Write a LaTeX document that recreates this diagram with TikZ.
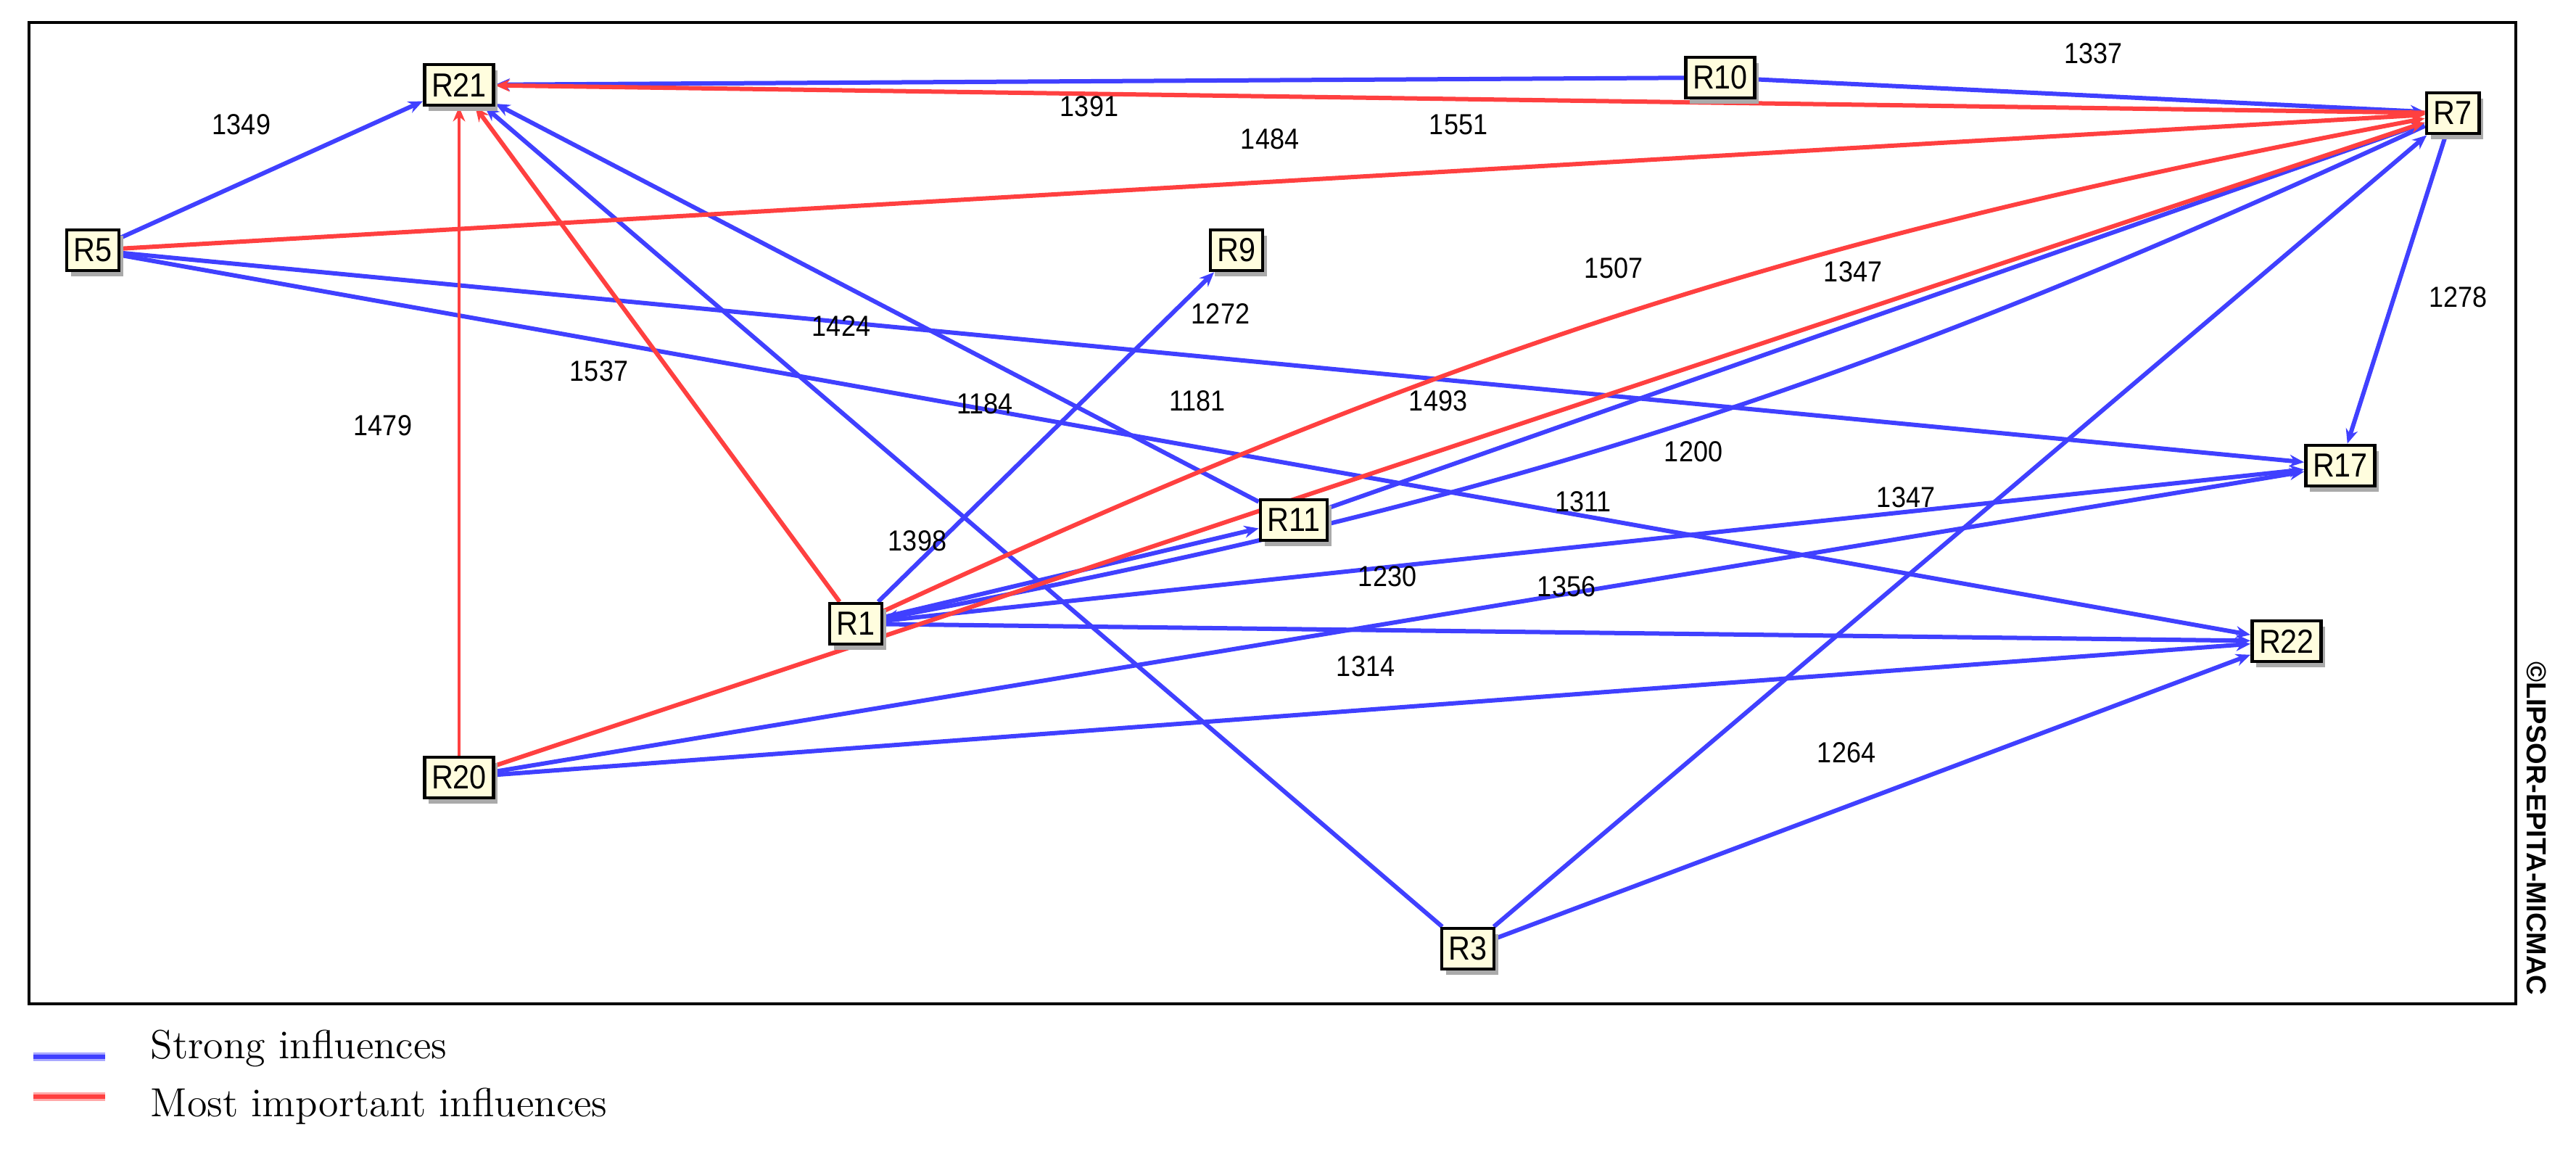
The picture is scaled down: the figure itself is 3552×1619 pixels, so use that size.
\documentclass[tikz,border=0pt]{standalone}
\usepackage{fontspec}
\newfontfamily\nf[FakeStretch=0.9]{Liberation Sans}
\newfontfamily\wmf{Liberation Sans}
\usetikzlibrary{arrows.meta,shadows}
\definecolor{eblue}{RGB}{64,64,255}
\definecolor{ered}{RGB}{255,64,64}
\definecolor{nfill}{RGB}{255,253,222}
\definecolor{shgray}{RGB}{170,170,170}
\pgfdeclarelayer{bg}
\pgfsetlayers{bg,main}
\begin{document}
\begin{tikzpicture}[x=0.25pt,y=-0.25pt,
  rbox/.style={draw=black, line width=1.2pt, fill=nfill,
    font=\nf\fontsize{11.5}{12}\selectfont, inner xsep=2.4pt, inner ysep=0pt,
    minimum height=14pt,
    drop shadow={shadow xshift=1.4pt, shadow yshift=-2pt, fill=shgray, opacity=1}},
  elab/.style={font=\nf\fontsize{10}{10}\selectfont, inner sep=0pt},
  tipA/.style={-{Stealth[length=5pt,width=4.2pt]}},
  be/.style={draw=eblue, line width=1.5pt, tipA},
  re/.style={draw=ered, line width=1.5pt, tipA},
  legtext/.style={font=\fontsize{14}{14}\selectfont, anchor=base west, inner sep=0pt}
]
\useasboundingbox (0,0) rectangle (3552,1619);

% nodes
\node[rbox] (R21) at (633,117) {R21};
\node[rbox] (R10) at (2372,107) {R10};
\node[rbox] (R7)  at (3382,156) {R7};
\node[rbox] (R5)  at (128,345) {R5};
\node[rbox] (R9)  at (1705,345) {R9};
\node[rbox] (R17) at (3227,642) {R17};
\node[rbox] (R11) at (1784,717) {R11};
\node[rbox] (R1)  at (1180,860) {R1};
\node[rbox] (R22) at (3153,884) {R22};
\node[rbox] (R20) at (633,1072) {R20};
\node[rbox] (R3)  at (2024,1308) {R3};

\begin{pgfonlayer}{bg}
  \draw[line width=1.1pt] (40,31) rectangle (3469,1384);
  % strong influences (blue)
  \draw[be] (R5) -- (R21);
  \draw[be] (R10) -- (R21);
  \draw[be] (R10) -- (R7);
  \draw[be] (R11) -- (R21);
  \draw[be] (R3) -- (R21);
  \draw[be] (R5) -- (R17);
  \draw[be] (R5) -- (R22);
  \draw[be] (R1) -- (R9);
  \draw[be] (R1) -- (R11);
  \draw[be] (R11) -- (R7);
  \draw[be] (R7) to[bend left=7] (R1);
  \draw[be] (R1) -- (R17);
  \draw[be] (R1) -- (R22);
  \draw[be] (R20) -- (R17);
  \draw[be] (R20) -- (R22);
  \draw[be] (R3) -- (R7);
  \draw[be] (R3) -- (R22);
  \draw[be] (R7) -- (R17);
  % most important influences (red)
  \draw[re] (R7) -- (R21);
  \draw[re] (R5) -- (R7);
  \draw[re] (R1) -- (R21);
  \draw[re, line width=1.1pt] (R20) -- (R21);
  \draw[re] (R1) to[bend left=7] (R7);
  \draw[re] (R20) -- (R7);
\end{pgfonlayer}

% edge labels
\node[elab] (l1349) at (333,172) {1349};
\node[elab] (l1391) at (1502,147) {1391};
\node[elab] (l1484) at (1751,192) {1484};
\node[elab] (l1551) at (2011,172) {1551};
\node[elab] (l1337) at (2886,74) {1337};
\node[elab] (l1507) at (2225,370) {1507};
\node[elab] (l1272) at (1683,433) {1272};
\node[elab] (l1347a) at (2555,375) {1347};
\node[elab] (l1278) at (3389,410) {1278};
\node[elab] (l1424) at (1160,450) {1424};
\node[elab] (l1537) at (826,512) {1537};
\node[elab] (l1479) at (528,587) {1479};
\node[elab] (l1184) at (1358,557) {1184};
\node[elab] (l1181) at (1651,553) {1181};
\node[elab] (l1493) at (1983,553) {1493};
\node[elab] (l1200) at (2335,623) {1200};
\node[elab] (l1311) at (2183,692) {1311};
\node[elab] (l1398) at (1265,746) {1398};
\node[elab] (l1230) at (1913,795) {1230};
\node[elab] (l1356) at (2160,809) {1356};
\node[elab] (l1314) at (1883,919) {1314};
\node[elab] (l1347b) at (2628,686) {1347};
\node[elab] (l1264) at (2546,1038) {1264};

% watermark
\node[rotate=-90, inner sep=0pt, font=\wmf\bfseries\fontsize{9.5}{9.5}\selectfont] (wm) at (3498,1142) {©LIPSOR-EPITA-MICMAC};

% legend
\coordinate (lb1) at (46,1457);
\coordinate (lb2) at (145,1457);
\coordinate (lr1) at (46,1512);
\coordinate (lr2) at (145,1512);
\draw[draw=eblue!45, line width=3.2pt] (lb1) -- (lb2);
\draw[draw=eblue, line width=1.3pt] (lb1) -- (lb2);
\draw[draw=ered!45, line width=3.2pt] (lr1) -- (lr2);
\draw[draw=ered, line width=1.3pt] (lr1) -- (lr2);
\node[legtext] (ls) at (207,1459) {Strong influences};
\node[legtext] (lm) at (207,1539) {Most important influences};
\end{tikzpicture}
\end{document}
